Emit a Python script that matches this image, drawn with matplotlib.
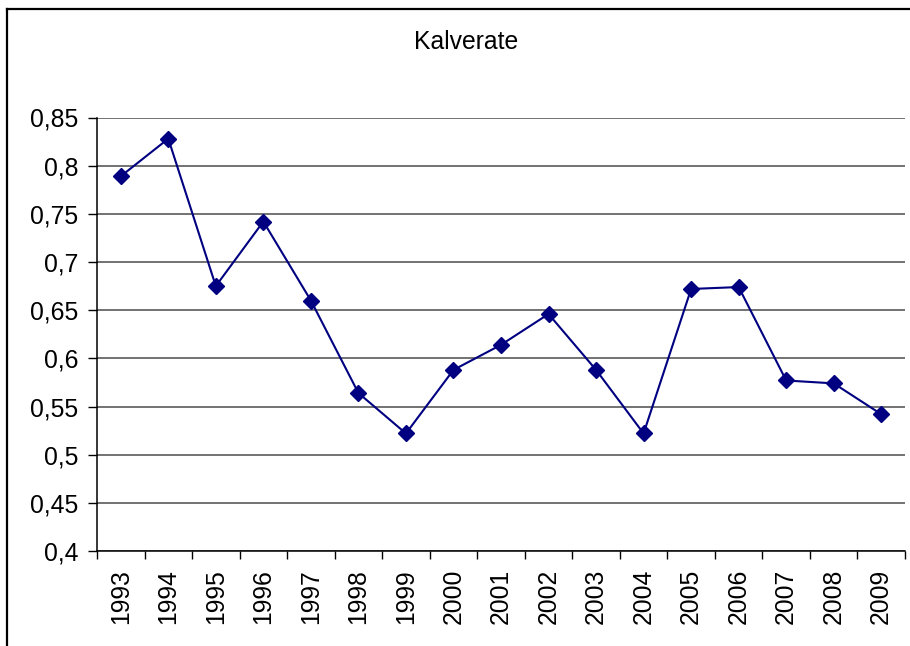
import matplotlib
matplotlib.use("Agg")
import matplotlib.pyplot as plt
from matplotlib.lines import Line2D
from matplotlib.ticker import FuncFormatter, FixedLocator

plt.rcParams['font.family'] = ['Liberation Sans', 'DejaVu Sans']

# data
years = ['1993', '1994', '1995', '1996', '1997', '1998', '1999', '2000', '2001',
         '2002', '2003', '2004', '2005', '2006', '2007', '2008', '2009']
kalverate = [0.789, 0.828, 0.675, 0.742, 0.660, 0.564, 0.522, 0.588, 0.614,
             0.646, 0.588, 0.522, 0.672, 0.674, 0.577, 0.574, 0.542]
yticks = [0.4, 0.45, 0.5, 0.55, 0.6, 0.65, 0.7, 0.75, 0.8, 0.85]

W, H = 910, 646
fs = 17.8
fig = plt.figure(figsize=(W / 100, H / 100), dpi=100)
ax = fig.add_axes([97 / W, 1 - 551 / H, (905 - 97) / W, (551 - 117.5) / H])

x = list(range(len(years)))
ax.plot(x, kalverate, color='#000080', lw=1.5, marker='D', ms=8,
        markerfacecolor='#000080', markeredgecolor='#000080', zorder=3)

ax.set_xlim(-0.5, len(years) - 0.5)
ax.set_ylim(0.4, 0.85)

# y axis, comma decimals like the original
ax.yaxis.set_major_locator(FixedLocator(yticks))
ax.yaxis.set_major_formatter(FuncFormatter(lambda v, p: ('%g' % round(v, 2)).replace('.', ',')))
ax.yaxis.grid(True, color='#5a5a5a', lw=1.2)
ax.set_axisbelow(True)

# x axis: ticks at the category borders, labels in the middle
ax.set_xticks([i - 0.5 for i in range(len(years) + 1)])
ax.set_xticklabels([])
ax.set_xticks(x, minor=True)
ax.set_xticklabels(years, minor=True, rotation=90)
ax.tick_params(axis='x', which='minor', length=0, pad=13, labelsize=fs)
ax.tick_params(axis='x', which='major', length=6, width=1, color='black', direction='out')
ax.tick_params(axis='y', length=6.5, width=1, pad=7, labelsize=fs)

for s in ['top', 'right']:
    ax.spines[s].set_visible(False)
ax.spines['left'].set_linewidth(1.1)
ax.spines['bottom'].set_linewidth(1.1)

fig.text(466 / W, 1 - 42 / H, 'Kalverate', ha='center', va='center', fontsize=fs)

# outer chart frame (cut off at the right and bottom)
fig.add_artist(Line2D([6.5 / W, 6.5 / W], [1 - 8.5 / H, 0], color='black', lw=1.6,
                      transform=fig.transFigure))
fig.add_artist(Line2D([6.5 / W, 1], [1 - 8.5 / H, 1 - 8.5 / H], color='black', lw=1.6,
                      transform=fig.transFigure))

fig.savefig('out.png', dpi=100)
